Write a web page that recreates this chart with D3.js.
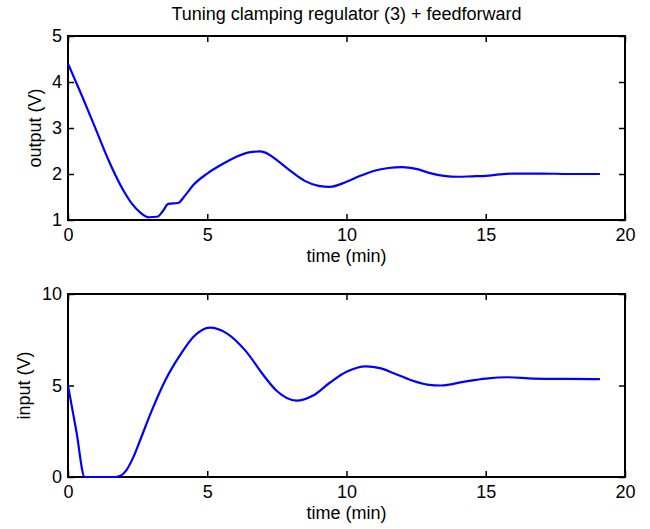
<!DOCTYPE html>
<html>
<head>
<meta charset="utf-8">
<script src="https://cdn.jsdelivr.net/npm/d3@7"></script>
<style>
body { margin: 0; background: #fff; }
svg { display: block; }
text { font-family: "Liberation Sans", Arial, Helvetica, sans-serif; fill: #000; }
</style>
</head>
<body>
<svg id="chart" width="650" height="529"></svg>
<script>
const titleText = "Tuning clamping regulator (3) + feedforward";
const xLabel = "time (min)";
const outLabel = "output (V)";
const inLabel = "input (V)";

const xTicks = [0, 5, 10, 15, 20];
const outTicks = [1, 2, 3, 4, 5];
const inTicks = [0, 5, 10];

const outTime = [0, 0.5, 1.0, 1.5, 2.0, 2.3, 2.6, 2.9, 3.2, 3.4, 3.6, 3.95, 4.2, 4.5, 5.0, 5.5, 6.0, 6.5, 6.9, 7.2, 7.5, 8.0, 8.5, 9.0, 9.4, 10.0, 10.5, 11.0, 11.5, 12.0, 12.5, 13.0, 13.5, 14.0, 14.5, 15.0, 15.5, 16.0, 17.0, 18.0, 19.1];
const outValue = [4.40, 3.70, 2.97, 2.24, 1.63, 1.35, 1.16, 1.06, 1.07, 1.19, 1.35, 1.37, 1.53, 1.76, 2.01, 2.20, 2.36, 2.47, 2.49, 2.43, 2.30, 2.06, 1.85, 1.74, 1.72, 1.83, 1.96, 2.07, 2.13, 2.15, 2.11, 2.02, 1.96, 1.94, 1.95, 1.96, 1.99, 2.01, 2.01, 2.00, 2.00];

const inTime = [0, 0.3, 0.6, 1.7, 1.9, 2.1, 2.35, 2.6, 3.0, 3.5, 4.0, 4.5, 5.1, 5.7, 6.4, 7.0, 7.5, 8.2, 8.8, 9.4, 10.0, 10.7, 11.2, 11.7, 12.3, 12.9, 13.4, 14.2, 15.0, 15.8, 16.7, 17.9, 19.1];
const inValue = [5.0, 2.5, 0, 0, 0.08, 0.38, 1.1, 2.05, 3.6, 5.3, 6.6, 7.65, 8.16, 7.85, 6.85, 5.6, 4.7, 4.17, 4.45, 5.15, 5.75, 6.05, 5.95, 5.67, 5.3, 5.05, 5.0, 5.2, 5.38, 5.45, 5.38, 5.36, 5.35];

const svg = d3.select("#chart");
const left = 68, right = 625;
const FS = 18;

function panel(top, bottom, yDomain, yTicks, times, values, ylab, ylabX) {
  const x = d3.scaleLinear().domain([0, 20]).range([left, right]);
  const y = d3.scaleLinear().domain(yDomain).range([bottom, top]);
  const g = svg.append("g");
  const tl = 6;
  const fmt = d3.format("d");
  const bx = d3.axisBottom(x).tickValues(xTicks).tickFormat(fmt).tickSizeInner(-tl).tickSizeOuter(0).tickPadding(8);
  const gb = g.append("g").attr("transform", `translate(0,${bottom})`).call(bx);
  gb.select(".domain").remove();
  gb.selectAll("line").attr("stroke", "#000").attr("stroke-width", 1.5);
  gb.selectAll("text").attr("font-size", FS).attr("dy", "0.71em").attr("font-family", null);
  const tx = d3.axisTop(x).tickValues(xTicks).tickSizeInner(-tl).tickSizeOuter(0).tickFormat("");
  const gt = g.append("g").attr("transform", `translate(0,${top})`).call(tx);
  gt.select(".domain").remove();
  gt.selectAll("line").attr("stroke", "#000").attr("stroke-width", 1.5);
  const ly = d3.axisLeft(y).tickValues(yTicks).tickFormat(fmt).tickSizeInner(-tl).tickSizeOuter(0).tickPadding(6);
  const gl = g.append("g").attr("transform", `translate(${left},0)`).call(ly);
  gl.select(".domain").remove();
  gl.selectAll("line").attr("stroke", "#000").attr("stroke-width", 1.5);
  gl.selectAll("text").attr("font-size", FS).attr("font-family", null);
  const ry = d3.axisRight(y).tickValues(yTicks).tickSizeInner(-tl).tickSizeOuter(0).tickFormat("");
  const gr = g.append("g").attr("transform", `translate(${right},0)`).call(ry);
  gr.select(".domain").remove();
  gr.selectAll("line").attr("stroke", "#000").attr("stroke-width", 1.5);

  g.append("rect").attr("x", left).attr("y", top).attr("width", right - left).attr("height", bottom - top)
    .attr("fill", "none").attr("stroke", "#000").attr("stroke-width", 2);

  const pts = times.map((t, i) => [t, values[i]]);
  const line = d3.line().x(d => x(d[0])).y(d => y(d[1])).curve(d3.curveMonotoneX);
  g.append("path").attr("d", line(pts)).attr("fill", "none").attr("stroke", "#0000ff").attr("stroke-width", 2.2)
    .attr("stroke-linejoin", "round");

  g.append("text").attr("x", (left + right) / 2).attr("y", bottom + 42).attr("text-anchor", "middle")
    .attr("font-size", FS).text(xLabel);
  g.append("text").attr("transform", `translate(${ylabX},${(top + bottom) / 2}) rotate(-90)`)
    .attr("text-anchor", "middle").attr("font-size", FS).text(ylab);
}

svg.append("text").attr("x", (left + right) / 2).attr("y", 20).attr("text-anchor", "middle")
  .attr("font-size", FS).text(titleText);

panel(36, 220, [1, 5], outTicks, outTime, outValue, outLabel, 41);
panel(294, 477, [0, 10], inTicks, inTime, inValue, inLabel, 30);
</script>
</body>
</html>
